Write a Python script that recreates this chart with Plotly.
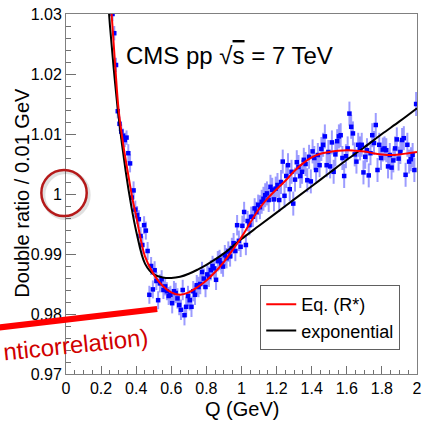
import plotly.graph_objects as go

# ---- data ----
q_data = [round(0.255 + 0.01 * i, 3) for i in range(175)]
ratio = [
    1.0345, 1.0300, 1.0268, 1.0215, 1.0138, 1.0117, 1.0104, 1.0097, 1.0090, 1.0094,
    1.0068, 1.0051, 0.9994, 1.0006, 0.9974, 0.9965, 0.9958, 0.9930, 0.9915, 0.9948,
    0.9939, 0.9905, 0.9832, 0.9880, 0.9841, 0.9873, 0.9855, 0.9823, 0.9851, 0.9858,
    0.9840, 0.9846, 0.9838, 0.9830, 0.9832, 0.9818, 0.9838, 0.9835, 0.9826, 0.9815,
    0.9807, 0.9840, 0.9798, 0.9812, 0.9830, 0.9823, 0.9812, 0.9838, 0.9832, 0.9848,
    0.9845, 0.9850, 0.9870, 0.9859, 0.9845, 0.9866, 0.9862, 0.9873, 0.9880, 0.9876,
    0.9857, 0.9888, 0.9890, 0.9884, 0.9879, 0.9898, 0.9893, 0.9904, 0.9896, 0.9910,
    0.9918, 0.9905, 0.9948, 0.9922, 0.9912, 0.9947, 0.9970, 0.9915, 0.9955, 0.9948,
    0.9962, 0.9962, 0.9976, 0.9970, 0.9982, 0.9978, 0.9987, 0.9992, 0.9998, 1.0001,
    0.9990, 1.0012, 1.0007, 0.9991, 1.0009, 1.0015, 0.9990, 1.0020, 1.0054, 0.9997,
    1.0030, 1.0048, 1.0008, 1.0037, 0.9984, 1.0024, 1.0053, 1.0045, 1.0030, 1.0037,
    1.0057, 1.0050, 1.0023, 1.0062, 1.0021, 1.0071, 1.0060, 1.0040, 1.0065, 1.0048,
    1.0075, 1.0082, 1.0096, 1.0048, 1.0070, 1.0046, 1.0086, 1.0037, 1.0066, 1.0088,
    1.0096, 1.0098, 1.0060, 1.0030, 1.0063, 1.0076, 1.0134, 1.0112, 1.0101, 1.0066,
    1.0054, 1.0082, 1.0076, 1.0082, 1.0036, 1.0062, 1.0073, 1.0031, 1.0068, 1.0098,
    1.0085, 1.0115, 1.0040, 1.0082, 1.0060, 1.0074, 1.0076, 1.0073, 1.0046, 1.0065,
    1.0044, 1.0056, 1.0076, 1.0091, 1.0059, 1.0070, 1.0090, 1.0093, 1.0032, 1.0082,
    1.0054, 1.0058, 1.0065, 1.0040, 1.0150,
]
ratio_err = [0.0012] * 10 + [0.0015] * 25 + [0.0017] * 50 + [0.0020] * 90

q_red = [0.24, 0.26, 0.28, 0.30, 0.33, 0.36, 0.38, 0.40, 0.45, 0.50, 0.55, 0.60, 0.65,
         0.70, 0.75, 0.80, 0.85, 0.90, 0.95, 1.00, 1.05, 1.10, 1.15, 1.20, 1.25, 1.30,
         1.35, 1.40, 1.45, 1.50, 1.55, 1.60, 1.65, 1.70, 1.75, 1.80, 1.85, 1.90, 1.95, 2.00]
v_red = [1.0390, 1.0300, 1.0215, 1.0140, 1.0075, 1.0023, 0.9990, 0.9963, 0.9896, 0.9866,
         0.9847, 0.9836, 0.9832, 0.9836, 0.9845, 0.9856, 0.9870, 0.9887, 0.9907, 0.9928,
         0.9952, 0.9975, 0.9993, 1.0008, 1.0022, 1.0038, 1.0051, 1.0061, 1.0067, 1.0070,
         1.0072, 1.0073, 1.0072, 1.0071, 1.0068, 1.0066, 1.0065, 1.0066, 1.0068, 1.0070]

q_blk = [0.235, 0.25, 0.27, 0.30, 0.34, 0.37, 0.40, 0.45, 0.50, 0.55, 0.60, 0.65, 0.70,
         0.75, 0.80, 0.85, 0.90, 0.95, 1.00, 1.10, 1.20, 1.30, 1.40, 1.50, 1.60, 1.70,
         1.80, 1.90, 2.00]
v_blk = [1.0340, 1.0282, 1.0215, 1.0128, 1.0038, 0.9983, 0.9938, 0.9884, 0.9866, 0.9861,
         0.9860, 0.9862, 0.9867, 0.9874, 0.9882, 0.9891, 0.9901, 0.9913, 0.9925, 0.9947,
         0.9969, 0.9991, 1.0013, 1.0035, 1.0057, 1.0078, 1.0100, 1.0121, 1.0143]

x_ticks = [0, 0.2, 0.4, 0.6, 0.8, 1, 1.2, 1.4, 1.6, 1.8, 2]
x_tick_labels = ["0", "0.2", "0.4", "0.6", "0.8", "1", "1.2", "1.4", "1.6", "1.8", "2"]
y_ticks = [0.97, 0.98, 0.99, 1.0, 1.01, 1.02, 1.03]
y_tick_labels = ["0.97", "0.98", "0.99", "1", "1.01", "1.02", "1.03"]

FONT = "Liberation Sans, Arial, sans-serif"

fig = go.Figure()
fig.add_trace(go.Scatter(
    x=q_data, y=ratio, mode="markers", showlegend=False,
    marker=dict(symbol="square", size=4.5, color="#0000ff"),
    error_y=dict(type="data", array=ratio_err, color="rgba(90,90,255,0.6)",
                 thickness=2, width=0),
))
fig.add_trace(go.Scatter(
    x=q_blk, y=v_blk, mode="lines", name="exponential", legendrank=2,
    line=dict(color="black", width=2, shape="spline", smoothing=1.0),
))
fig.add_trace(go.Scatter(
    x=q_red, y=v_red, mode="lines", name="Eq. (R*)", legendrank=1,
    line=dict(color="#ff0000", width=2, shape="spline", smoothing=1.0),
))

L, R, T, B = 66, 3, 14, 49
W, H = 425, 423
pw, ph = W - L - R, H - T - B

def px(xp):
    return (xp - L) / pw

def py(yp):
    return (H - B - yp) / ph

axis_common = dict(
    showline=True, linecolor="#808080", linewidth=1, mirror=True,
    ticks="inside", tickcolor="#707070", showgrid=False, zeroline=False,
    tickfont=dict(family=FONT, size=16, color="black"),
    tickmode="array", ticklabeloverflow="allow",
)
fig.update_xaxes(range=[0, 2], tickvals=x_ticks, ticktext=x_tick_labels, ticklen=8,
                 minor=dict(dtick=0.05, tick0=0, ticklen=4, ticks="inside",
                            tickcolor="#707070"),
                 **axis_common)
fig.update_yaxes(range=[0.97, 1.03], tickvals=y_ticks, ticktext=y_tick_labels, ticklen=10,
                 minor=dict(dtick=0.002, tick0=0.97, ticklen=5, ticks="inside",
                            tickcolor="#707070"),
                 **axis_common)

fig.update_layout(
    width=W, height=H,
    margin=dict(l=L, r=R, t=T, b=B),
    paper_bgcolor="white", plot_bgcolor="white",
    font=dict(family=FONT, color="black"),
    legend=dict(x=px(263), y=py(285), xanchor="left", yanchor="top",
                bordercolor="#606060", borderwidth=1, bgcolor="white",
                font=dict(family=FONT, size=18), tracegroupgap=0,
                itemwidth=30),
    annotations=[
        dict(text="CMS pp \u221a<span style='text-decoration:overline'>s</span> = 7 TeV",
             xref="paper", yref="paper", x=px(125), y=py(55),
             xanchor="left", yanchor="middle", showarrow=False,
             font=dict(family=FONT, size=24, color="black")),
        dict(text="Q (GeV)", xref="paper", yref="paper", x=px(245), y=py(409),
             xanchor="center", yanchor="middle", showarrow=False,
             font=dict(family=FONT, size=20, color="black")),
        dict(text="Double ratio / 0.01 GeV", xref="paper", yref="paper",
             x=px(21), y=py(193), textangle=-90,
             xanchor="center", yanchor="middle", showarrow=False,
             font=dict(family=FONT, size=20, color="black")),
        dict(text="nticorrelation)", xref="paper", yref="paper",
             x=px(76), y=py(344), textangle=-6,
             xanchor="center", yanchor="middle", showarrow=False,
             font=dict(family=FONT, size=24, color="#d00000")),
    ],
    shapes=[
        dict(type="circle", xref="paper", yref="paper",
             x0=px(43), x1=px(89), y0=py(218), y1=py(172),
             line=dict(color="rgba(0,0,0,0.12)", width=4)),
        dict(type="circle", xref="paper", yref="paper",
             x0=px(41), x1=px(87), y0=py(216), y1=py(170),
             line=dict(color="#b51a1a", width=2.5)),
        dict(type="line", xref="paper", yref="paper",
             x0=px(-2), y0=py(327.5), x1=px(158.5), y1=py(309),
             line=dict(color="#ff0000", width=6)),
    ],
)

fig.write_html("out.html")
